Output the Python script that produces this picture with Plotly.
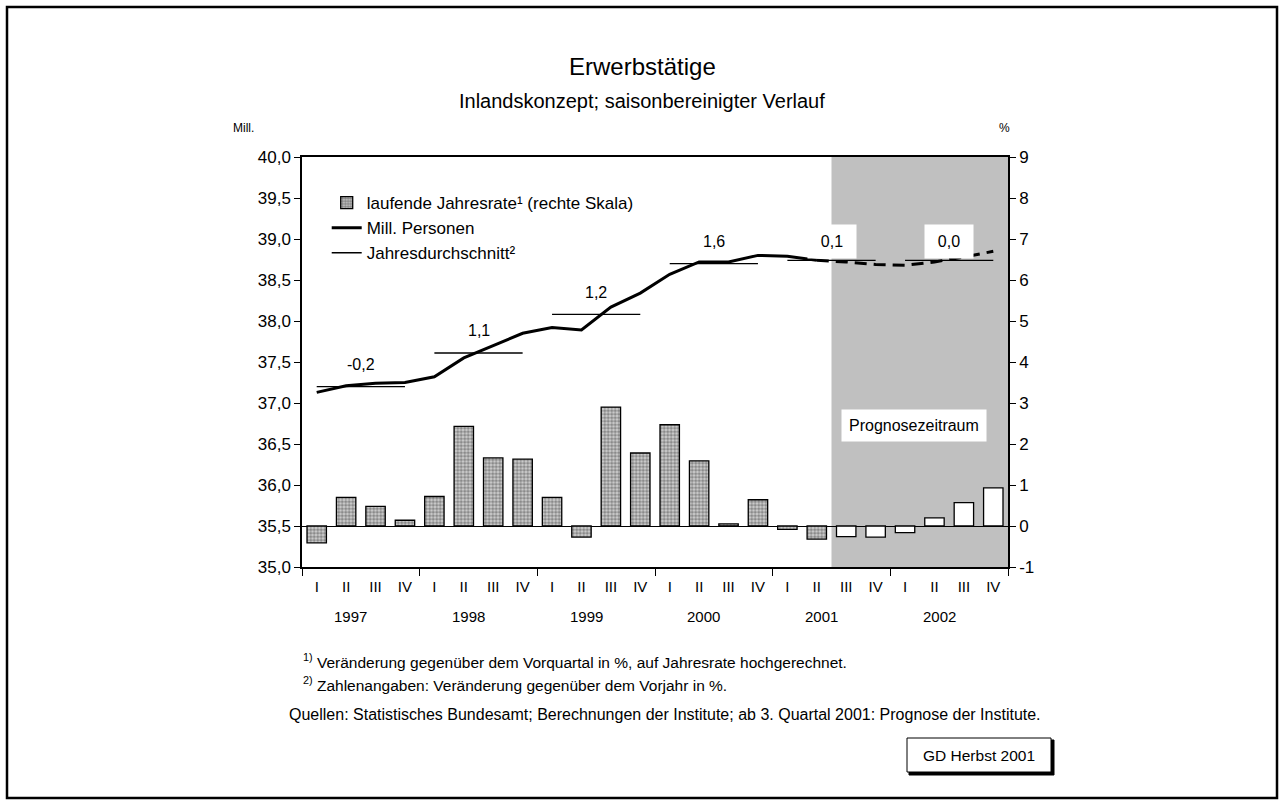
import plotly.graph_objects as go

# ---------------- data ----------------
years = ["1997", "1998", "1999", "2000", "2001", "2002"]
quarters = ["I", "II", "III", "IV"]
# Mill. Personen (left axis), quarterly, seasonally adjusted
persons = [37.13, 37.21, 37.24, 37.25,
           37.32, 37.55, 37.70, 37.85,
           37.92, 37.89, 38.17, 38.34,
           38.57, 38.72, 38.72, 38.80,
           38.79, 38.74, 38.72, 38.69,
           38.68, 38.72, 38.78, 38.85]
# laufende Jahresrate in % (right axis)
rates = [-0.41, 0.70, 0.48, 0.14,
         0.72, 2.43, 1.66, 1.63,
         0.70, -0.27, 2.90, 1.78,
         2.47, 1.59, 0.05, 0.64,
         -0.08, -0.32, -0.26, -0.27,
         -0.16, 0.20, 0.57, 0.93]
# Jahresdurchschnitt (Mill.) and change vs previous year (%)
year_avg = [37.20, 37.61, 38.08, 38.70, 38.74, 38.74]
year_chg = ["-0,2", "1,1", "1,2", "1,6", "0,1", "0,0"]
forecast_start = 18  # index of 2001 Q3
# right axis tick values and labels
right_tickvals = [-1, 0, 1, 2, 3, 4, 5, 6, 7, 8, 9]
right_ticktext = ["-1", "0", "1", "2", "3", "4", "5", "6", "7", "8", "9"]

# ---------------- derived positions ----------------
n = len(persons)
xc = [i + 0.5 for i in range(n)]
qlabels = [quarters[i % 4] for i in range(n)]

W, H = 1284, 801
L, R, T, B = 302, 1008, 157, 700  # plot area in px (paper)
yd0 = (B - 567) / (B - T)


def px(x):
    return (x - L) / (R - L)


def py(y):
    return (B - y) / (B - T)


FONT = "Arial, Liberation Sans, Helvetica, sans-serif"

fig = go.Figure()

# bars
bar_colors = ["#d0d0d0" if i < forecast_start else "white" for i in range(n)]
pat_shapes = ["." if i < forecast_start else "" for i in range(n)]
fig.add_trace(go.Bar(
    x=xc, y=rates, yaxis="y2", width=0.66,
    name="laufende Jahresrate¹ (rechte Skala)",
    marker=dict(color=bar_colors,
                line=dict(color="black", width=1.3),
                pattern=dict(shape=pat_shapes, fgcolor="#2a2a2a",
                             bgcolor=bar_colors, size=3.5, solidity=0.62)),
    hoverinfo="skip"))

# main line (actual) and forecast (dashed)
fig.add_trace(go.Scatter(
    x=xc[:forecast_start], y=persons[:forecast_start], mode="lines",
    name="Mill. Personen", line=dict(color="black", width=3)))
fig.add_trace(go.Scatter(
    x=xc[forecast_start - 1:], y=persons[forecast_start - 1:], mode="lines",
    showlegend=False, line=dict(color="black", width=3, dash="12px,7px")))

# yearly averages
ax, ay = [], []
for k, v in enumerate(year_avg):
    ax += [xc[4 * k], xc[4 * k + 3], None]
    ay += [v, v, None]
fig.add_trace(go.Scatter(
    x=ax, y=ay, mode="lines", name="Jahresdurchschnitt²",
    line=dict(color="black", width=1.3)))


def txt(x, y, text, size, xanchor="center", xref="paper", yref="paper", **kw):
    d = dict(x=x, y=y, xref=xref, yref=yref, text=text, showarrow=False,
             xanchor=xanchor, yanchor="middle",
             font=dict(size=size, color="black", family=FONT))
    d.update(kw)
    return d


annotations = []
# year change labels
for k, t in enumerate(year_chg):
    if k < 4:
        annotations.append(txt(4 * k + 2, year_avg[k] + 0.27, t, 16,
                               xref="x", yref="y"))
    else:
        annotations.append(txt(4 * k + 2, year_avg[k] + 0.23, t, 16,
                               xref="x", yref="y", bgcolor="white",
                               borderpad=8, width=32))

# year labels below quarter labels
for k, yr in enumerate(years):
    annotations.append(txt(4 * k + 2, py(616), yr, 15, xref="x", xshift=-10))

# titles and texts
annotations += [
    txt(px(642), py(67), "Erwerbstätige", 24),
    txt(px(642), py(101), "Inlandskonzept; saisonbereinigter Verlauf", 20),
    txt(px(231), py(128), "Mill.", 12, xanchor="left"),
    txt(px(1004), py(128), "%", 12),
    txt(20.8, 2.44, "Prognosezeitraum", 16, xref="x", yref="y2",
        bgcolor="white", borderpad=7),
    txt(px(301), py(661),
        "<sup>1)</sup> Veränderung gegenüber dem Vorquartal in %, auf Jahresrate hochgerechnet.",
        15.5, xanchor="left"),
    txt(px(301), py(684),
        "<sup>2)</sup> Zahlenangaben: Veränderung gegenüber dem Vorjahr in %.",
        15.5, xanchor="left"),
    txt(px(287), py(714),
        "Quellen: Statistisches Bundesamt; Berechnungen der Institute; ab 3. Quartal 2001: Prognose der Institute.",
        16, xanchor="left"),
    txt(px(979), py(755), "GD Herbst 2001", 15.5),
]

shapes = [
    # forecast shading
    dict(type="rect", xref="x", yref="y2", x0=forecast_start, x1=n, y0=-1, y1=9,
         fillcolor="#c0c0c0", line=dict(width=0), layer="below"),
    # outer frame
    dict(type="rect", xref="paper", yref="paper", x0=px(7), x1=px(1277),
         y0=py(798), y1=py(7), line=dict(color="black", width=2.5),
         fillcolor="rgba(0,0,0,0)"),
    # GD box shadow and box
    dict(type="rect", xref="paper", yref="paper", x0=px(909), x1=px(1054),
         y0=py(775), y1=py(740), line=dict(color="black", width=1),
         fillcolor="black"),
    dict(type="rect", xref="paper", yref="paper", x0=px(907), x1=px(1051),
         y0=py(772), y1=py(738), line=dict(color="black", width=1),
         fillcolor="white"),
]

fig.update_layout(
    width=W, height=H,
    margin=dict(l=L, r=W - R, t=T, b=H - B, pad=0),
    paper_bgcolor="white", plot_bgcolor="white",
    separators=",.",
    font=dict(family=FONT, color="black", size=15),
    showlegend=True,
    legend=dict(x=0.035, y=py(185), xanchor="left", yanchor="top",
                bgcolor="rgba(0,0,0,0)", font=dict(size=17, family=FONT),
                itemwidth=30, tracegroupgap=0, traceorder="normal"),
    bargap=0.3,
    xaxis=dict(range=[0, n], tickvals=xc, ticktext=qlabels, ticks="",
               showline=True, linecolor="black", linewidth=1.5, mirror=True,
               showgrid=False, zeroline=False, tickfont=dict(size=15),
               ticklabelstandoff=5,
               minor=dict(tickvals=list(range(0, n + 1, 4)), ticks="outside",
                          ticklen=7, tickcolor="black", tickwidth=1.3,
                          showgrid=False)),
    yaxis=dict(domain=[yd0, 1], range=[35, 40], tick0=35, dtick=0.5,
               tickformat=".1f", ticks="outside", ticklen=6, tickwidth=1.3,
               tickcolor="black", showline=True, linecolor="black",
               linewidth=1.5, showgrid=False, zeroline=False,
               tickfont=dict(size=17)),
    yaxis2=dict(overlaying="y", side="right", range=[-1, 9],
                tickvals=right_tickvals, ticktext=right_ticktext,
                ticks="outside", ticklen=6, tickwidth=1.3, tickcolor="black",
                showline=True, linecolor="black", linewidth=1.5,
                showgrid=False, zeroline=True, zerolinecolor="black",
                zerolinewidth=1.3, tickfont=dict(size=17)),
    annotations=annotations,
    shapes=shapes,
)

fig.write_html("out.html",
               config={"displayModeBar": False},
               post_script="document.body.style.margin='0';document.body.style.padding='0';")
